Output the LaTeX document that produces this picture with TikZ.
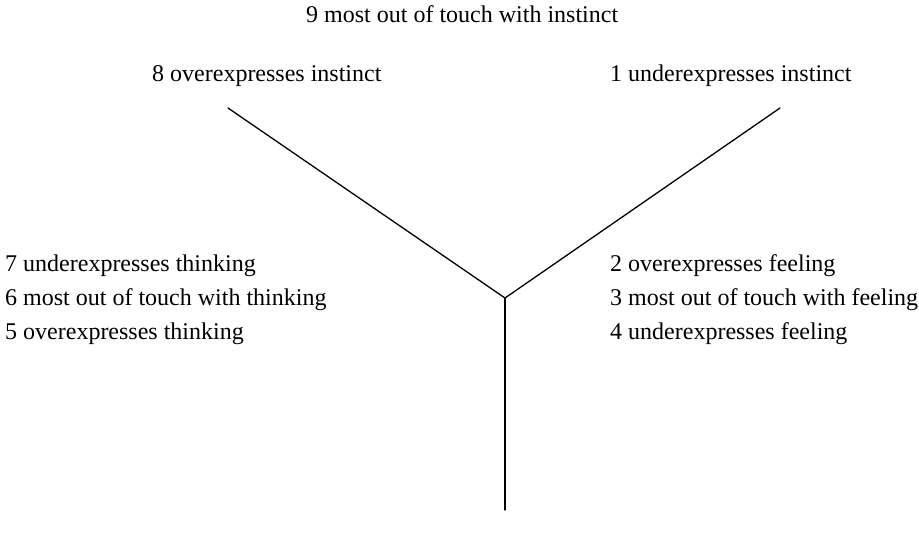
\documentclass[tikz,border=0pt]{standalone}
\usepackage{fontspec}
\setmainfont{Liberation Serif}
\usetikzlibrary{positioning}

\begin{document}
\begin{tikzpicture}[x=1pt,y=-1pt,
  lbl/.style={inner sep=0pt,anchor=base west,font=\fontsize{24}{27}\selectfont},
  arm/.style={line width=1.3pt,line cap=round}]
\useasboundingbox (0,0) rectangle (919,542);
% labels
\node[lbl] (n9) at (306,22) {9 most out of touch with instinct};
\node[lbl] (n8) at (152,81) {8 overexpresses instinct};
\node[lbl] (n1) at (610,81) {1 underexpresses instinct};
\node[lbl] (n7) at (5,271) {7 underexpresses thinking};
\node[lbl] (n6) at (5,305) {6 most out of touch with thinking};
\node[lbl] (n5) at (5,339) {5 overexpresses thinking};
\node[lbl] (n2) at (610,271) {2 overexpresses feeling};
\node[lbl] (n3) at (610,305) {3 most out of touch with feeling};
\node[lbl] (n4) at (610,339) {4 underexpresses feeling};
% the three arms
\coordinate (hub) at (505,298);
\coordinate (endL) at (228,108);
\coordinate (endR) at (780,108);
\coordinate (endB) at (505,510);
\draw[arm] (endL) -- (hub) -- (endR);
\draw[arm] (hub) -- (endB);
\end{tikzpicture}
\end{document}
